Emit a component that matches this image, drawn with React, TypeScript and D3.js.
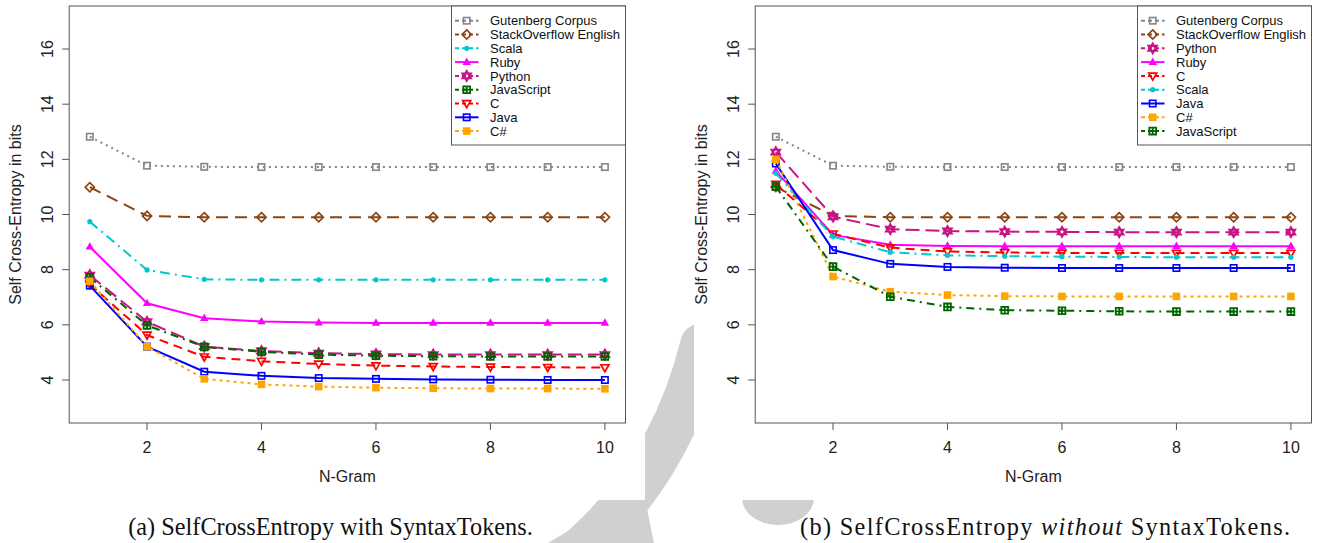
import * as d3 from "d3";

const nGrams = [1, 2, 3, 4, 5, 6, 7, 8, 9, 10];
const xTicks = [2, 4, 6, 8, 10];
const yTicks = [4, 6, 8, 10, 12, 14, 16];

// (a) with SyntaxTokens
const gutenbergA = [12.82, 11.77, 11.73, 11.72, 11.72, 11.72, 11.72, 11.72, 11.72, 11.72];
const stackOverflowA = [10.99, 9.95, 9.9, 9.9, 9.9, 9.9, 9.9, 9.9, 9.9, 9.9];
const scalaA = [9.74, 7.99, 7.65, 7.63, 7.63, 7.63, 7.63, 7.63, 7.63, 7.63];
const rubyA = [8.83, 6.78, 6.24, 6.12, 6.08, 6.07, 6.07, 6.07, 6.07, 6.07];
const pythonA = [7.8, 6.11, 5.21, 5.05, 4.97, 4.94, 4.92, 4.92, 4.92, 4.92];
const javascriptA = [7.72, 5.98, 5.2, 5.02, 4.92, 4.88, 4.86, 4.85, 4.85, 4.85];
const cA = [7.47, 5.63, 4.84, 4.68, 4.58, 4.52, 4.49, 4.47, 4.46, 4.45];
const javaA = [7.42, 5.21, 4.3, 4.15, 4.07, 4.04, 4.02, 4.01, 4.0, 4.0];
const csharpA = [7.58, 5.21, 4.04, 3.84, 3.76, 3.72, 3.7, 3.69, 3.69, 3.68];

// (b) without SyntaxTokens
const gutenbergB = [12.82, 11.77, 11.73, 11.72, 11.72, 11.72, 11.72, 11.72, 11.72, 11.72];
const stackOverflowB = [11.0, 9.95, 9.9, 9.9, 9.9, 9.9, 9.9, 9.9, 9.9, 9.9];
const pythonB = [12.26, 9.92, 9.47, 9.4, 9.38, 9.37, 9.36, 9.36, 9.36, 9.36];
const rubyB = [11.58, 9.26, 8.9, 8.86, 8.85, 8.85, 8.85, 8.85, 8.85, 8.85];
const cB = [11.1, 9.3, 8.8, 8.66, 8.62, 8.61, 8.6, 8.6, 8.6, 8.6];
const scalaB = [11.5, 9.2, 8.63, 8.52, 8.49, 8.47, 8.46, 8.45, 8.45, 8.45];
const javaB = [11.85, 8.71, 8.21, 8.1, 8.07, 8.06, 8.06, 8.06, 8.06, 8.06];
const csharpB = [12.0, 7.75, 7.2, 7.08, 7.04, 7.03, 7.03, 7.03, 7.03, 7.03];
const javascriptB = [11.01, 8.11, 7.02, 6.65, 6.53, 6.51, 6.49, 6.48, 6.48, 6.48];

const seriesA = [
  { name: "Gutenberg Corpus", values: gutenbergA },
  { name: "StackOverflow English", values: stackOverflowA },
  { name: "Scala", values: scalaA },
  { name: "Ruby", values: rubyA },
  { name: "Python", values: pythonA },
  { name: "JavaScript", values: javascriptA },
  { name: "C", values: cA },
  { name: "Java", values: javaA },
  { name: "C#", values: csharpA },
];

const seriesB = [
  { name: "Gutenberg Corpus", values: gutenbergB },
  { name: "StackOverflow English", values: stackOverflowB },
  { name: "Python", values: pythonB },
  { name: "Ruby", values: rubyB },
  { name: "C", values: cB },
  { name: "Scala", values: scalaB },
  { name: "Java", values: javaB },
  { name: "C#", values: csharpB },
  { name: "JavaScript", values: javascriptB },
];

const styles: Record<string, { color: string; dash: string; shape: string }> = {
  "Gutenberg Corpus": { color: "#858585", dash: "2,4", shape: "square" },
  "StackOverflow English": { color: "#8B4513", dash: "12,7", shape: "diamond" },
  Scala: { color: "#00C8CC", dash: "10,5,2,5", shape: "dot" },
  Ruby: { color: "#FF00FF", dash: "none", shape: "triUp" },
  Python: { color: "#C71585", dash: "14,6", shape: "star" },
  JavaScript: { color: "#006400", dash: "8,5,2,5", shape: "squarePlus" },
  C: { color: "#FF0000", dash: "9,6", shape: "triDown" },
  Java: { color: "#0000FF", dash: "none", shape: "square" },
  "C#": { color: "#FFA500", dash: "3,4", shape: "squareFilled" },
};

const FONT = "Liberation Sans, Arial, Helvetica, sans-serif";
const SERIF = "Liberation Serif, Times New Roman, serif";

const Marker = ({ shape, color, x, y }: { shape: string; color: string; x: number; y: number }) => {
  const s = 3.2;
  const t = `translate(${x},${y})`;
  if (shape === "square")
    return <rect transform={t} x={-s} y={-s} width={2 * s} height={2 * s} fill="none" stroke={color} strokeWidth={1.6} />;
  if (shape === "squareFilled")
    return <rect transform={t} x={-3.8} y={-3.8} width={7.6} height={7.6} fill={color} stroke="none" />;
  if (shape === "squarePlus")
    return (
      <path transform={t} d={`M-3.4,-3.4h6.8v6.8h-6.8Z M-3.4,0h6.8 M0,-3.4v6.8`}
        fill="none" stroke={color} strokeWidth={1.8} />
    );
  if (shape === "diamond")
    return <path transform={t} d="M0,-4.6L4.6,0L0,4.6L-4.6,0Z" fill="none" stroke={color} strokeWidth={1.7} />;
  if (shape === "dot") return <circle transform={t} r={2.6} fill={color} />;
  if (shape === "triUp") return <path transform={t} d="M0,-4.6L4.2,2.8L-4.2,2.8Z" fill={color} />;
  if (shape === "triDown")
    return <path transform={t} d="M0,4.2L4,-2.8L-4,-2.8Z" fill="none" stroke={color} strokeWidth={1.7} />;
  // star of David
  return (
    <path transform={t} d="M0,-4.8L4.2,2.4L-4.2,2.4Z M0,4.8L4.2,-2.4L-4.2,-2.4Z" fill="none" stroke={color} strokeWidth={2.1} />
  );
};

const Panel = ({ left, series }: { left: number; series: { name: string; values: number[] }[] }) => {
  const x0 = left;
  const x1 = left + 556.3;
  const yTop = 6;
  const yBot = 423;
  const x = d3.scaleLinear().domain([0.64, 10.36]).range([x0, x1]);
  const y = d3.scaleLinear().domain([2.44, 17.56]).range([yBot, yTop]);
  const line = d3
    .line<number>()
    .x((_, i) => x(nGrams[i]))
    .y((d) => y(d));

  const legW = 174;
  const legX = x1 - legW;
  const rowH = 13.8;

  return (
    <g>
      <rect x={x0} y={yTop} width={x1 - x0} height={yBot - yTop} fill="#fff" stroke="#555" strokeWidth={1} />
      {/* x axis */}
      {xTicks.map((t) => (
        <g key={t}>
          <line x1={x(t)} x2={x(t)} y1={yBot} y2={yBot + 7} stroke="#555" />
          <text x={x(t)} y={452.5} textAnchor="middle" fontSize={16} fontFamily={FONT} fill="#222">
            {t}
          </text>
        </g>
      ))}
      <text x={(x0 + x1) / 2} y={482} textAnchor="middle" fontSize={16} fontFamily={FONT} fill="#222">
        N-Gram
      </text>
      {/* y axis */}
      {yTicks.map((t) => (
        <g key={t}>
          <line x1={x0 - 7} x2={x0} y1={y(t)} y2={y(t)} stroke="#555" />
          <text
            transform={`translate(${x0 - 16},${y(t)}) rotate(-90)`}
            textAnchor="middle"
            fontSize={16}
            fontFamily={FONT}
            fill="#222"
          >
            {t}
          </text>
        </g>
      ))}
      <text
        transform={`translate(${x0 - 48},${(yTop + yBot) / 2}) rotate(-90)`}
        textAnchor="middle"
        fontSize={16}
        fontFamily={FONT}
        fill="#222"
      >
        Self Cross-Entropy in bits
      </text>
      {/* series */}
      {series.map((s) => {
        const st = styles[s.name];
        return (
          <g key={s.name}>
            <path d={line(s.values) ?? ""} fill="none" stroke={st.color} strokeWidth={2} strokeDasharray={st.dash} />
            {s.values.map((v, i) => (
              <Marker key={i} shape={st.shape} color={st.color} x={x(nGrams[i])} y={y(v)} />
            ))}
          </g>
        );
      })}
      {/* legend */}
      <rect x={legX} y={yTop} width={legW} height={139} fill="#fff" stroke="#555" strokeWidth={1} />
      {series.map((s, i) => {
        const st = styles[s.name];
        const cy = yTop + 14.7 + i * rowH;
        return (
          <g key={s.name}>
            <line x1={legX + 3.5} x2={legX + 27} y1={cy} y2={cy} stroke={st.color} strokeWidth={2}
              strokeDasharray={st.dash === "none" ? "none" : "4,3"} />
            <Marker shape={st.shape} color={st.color} x={legX + 15.2} y={cy} />
            <text x={legX + 38.5} y={cy + 4.6} fontSize={13} fontFamily={FONT} fill="#111">
              {s.name}
            </text>
          </g>
        );
      })}
    </g>
  );
};

export default function App() {
  return (
    <div style={{ position: "absolute", left: 0, top: 0 }}>
      <svg width={1318} height={543} style={{ display: "block", background: "#fff" }}>
        {/* faint background watermark, mostly hidden behind the two figures */}
        <path d="M555,570 Q668,485 702,345" fill="none" stroke="#d0d0d0" strokeWidth={44} strokeLinecap="round" />
        <path d="M548,543 L573,528 Q600,508 625,497 L645,497 Q649,520 654,543 Z" fill="#d0d0d0" />
        <ellipse cx={778} cy={498} rx={36} ry={27} fill="#d0d0d0" />
        <rect x={0} y={0} width={645} height={500} fill="#fff" />
        <rect x={694} y={0} width={624} height={500} fill="#fff" />
        <Panel left={69.2} series={seriesA} />
        <Panel left={755.2} series={seriesB} />
        <text x={330.5} y={535} textAnchor="middle" fontSize={24.3} fontFamily={SERIF} fill="#111">
          (a) SelfCrossEntropy with SyntaxTokens.
        </text>
        <text x={800} y={535} textLength={490} lengthAdjust="spacing" fontSize={24.3} fontFamily={SERIF} fill="#111">
          (b) SelfCrossEntropy <tspan fontStyle="italic">without</tspan> SyntaxTokens.
        </text>
      </svg>
    </div>
  );
}
